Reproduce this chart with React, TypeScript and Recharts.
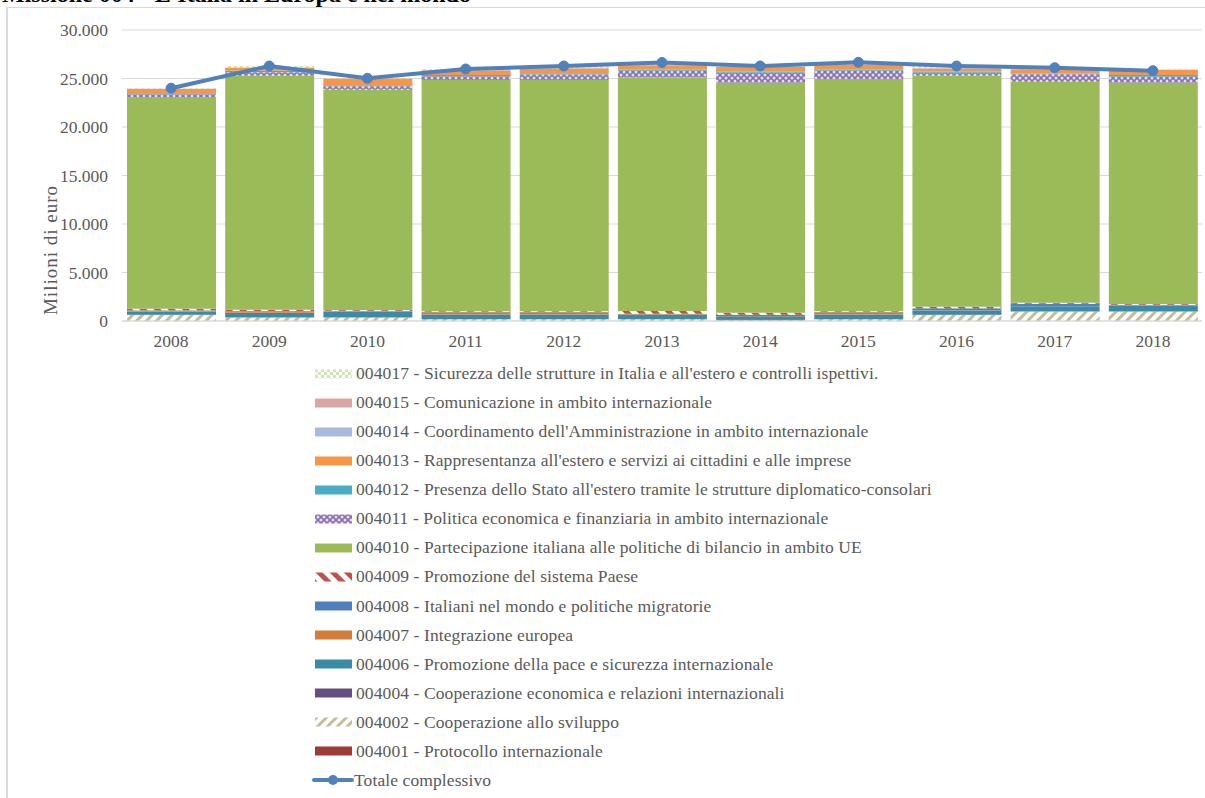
import React from 'react';
import { Bar, CartesianGrid, ComposedChart, Line, XAxis, YAxis } from 'recharts';

const years = ['2008', '2009', '2010', '2011', '2012', '2013', '2014', '2015', '2016', '2017', '2018'];

// milioni di euro
const s004001 = [20, 20, 20, 20, 20, 20, 20, 20, 20, 20, 20];
const s004002 = [600, 350, 350, 170, 170, 170, 60, 170, 600, 950, 950];
const s004004 = [20, 20, 20, 20, 20, 20, 100, 20, 20, 20, 20];
const s004006 = [350, 450, 600, 450, 450, 450, 300, 450, 450, 450, 600];
const s004007 = [100, 150, 30, 230, 230, 50, 30, 230, 30, 30, 30];
const s004008 = [30, 30, 30, 30, 30, 40, 140, 30, 200, 300, 60];
const s004009 = [150, 150, 80, 80, 80, 280, 200, 80, 150, 120, 70];
const s004010 = [21750, 24120, 22720, 23850, 23850, 24090, 23720, 23950, 23820, 22780, 22820];
const s004011 = [350, 350, 350, 380, 550, 690, 1030, 860, 310, 760, 620];
const s004012 = [100, 170, 100, 120, 150, 100, 100, 120, 130, 80, 170];
const s004013 = [450, 300, 690, 470, 480, 450, 480, 450, 280, 450, 515];
const s004014 = [20, 20, 10, 20, 20, 20, 20, 20, 20, 20, 20];
const s004015 = [20, 30, 10, 40, 90, 60, 30, 60, 80, 30, 20];
const s004017 = [60, 150, 10, 100, 150, 210, 60, 210, 180, 100, 35];
const totale = [24000, 26290, 25020, 25980, 26290, 26650, 26290, 26670, 26290, 26110, 25800];

const yTicks = [0, 5000, 10000, 15000, 20000, 25000, 30000];

const series = [
  { key: 's004001', name: '004001 - Protocollo internazionale', values: s004001, fill: '#9c3b38' },
  { key: 's004002', name: '004002 - Cooperazione allo sviluppo', values: s004002, fill: 'url(#p002)' },
  { key: 's004004', name: '004004 - Cooperazione economica e relazioni internazionali', values: s004004, fill: '#654f82' },
  { key: 's004006', name: '004006 - Promozione della pace e sicurezza internazionale', values: s004006, fill: '#3a8ca6' },
  { key: 's004007', name: '004007 - Integrazione europea', values: s004007, fill: '#d27d3b' },
  { key: 's004008', name: '004008 - Italiani nel mondo e politiche migratorie', values: s004008, fill: '#4f7fbd' },
  { key: 's004009', name: '004009 - Promozione del sistema Paese', values: s004009, fill: 'url(#p009)' },
  { key: 's004010', name: '004010 - Partecipazione italiana alle politiche di bilancio in ambito UE', values: s004010, fill: '#9bbb59' },
  { key: 's004011', name: '004011 - Politica economica e finanziaria in ambito internazionale', values: s004011, fill: 'url(#p011)' },
  { key: 's004012', name: "004012 - Presenza dello Stato all'estero tramite le strutture diplomatico-consolari", values: s004012, fill: '#4bacc6' },
  { key: 's004013', name: "004013 - Rappresentanza all'estero e servizi ai cittadini e alle imprese", values: s004013, fill: '#f79646' },
  { key: 's004014', name: "004014 - Coordinamento dell'Amministrazione in ambito internazionale", values: s004014, fill: '#a7b9dc' },
  { key: 's004015', name: '004015 - Comunicazione in ambito internazionale', values: s004015, fill: '#d9a6a5' },
  { key: 's004017', name: "004017 - Sicurezza delle strutture in Italia e all'estero e controlli ispettivi.", values: s004017, fill: 'url(#p017)' },
];

const data = years.map((year, i) => {
  const row: Record<string, string | number> = { year, totale: totale[i] };
  series.forEach((s) => {
    row[s.key] = s.values[i];
  });
  return row;
});

const fmt = (v: number) => String(v).replace(/\B(?=(\d{3})+(?!\d))/g, '.');

const font = '"Liberation Serif", "Times New Roman", serif';
const grey = '#595959';

function Patterns() {
  return (
    <defs>
      <pattern id="p017" width="6" height="6" patternUnits="userSpaceOnUse">
        <rect width="6" height="6" fill="#ffffff" />
        <rect width="3" height="3" fill="#d3e2b6" />
        <rect x="3" y="3" width="3" height="3" fill="#d3e2b6" />
      </pattern>
      <pattern id="p011" width="6" height="6" patternUnits="userSpaceOnUse">
        <rect width="6" height="6" fill="#8a70ad" />
        <circle cx="0" cy="0" r="1.5" fill="#e4ddef" />
        <circle cx="6" cy="0" r="1.5" fill="#e4ddef" />
        <circle cx="0" cy="6" r="1.5" fill="#e4ddef" />
        <circle cx="6" cy="6" r="1.5" fill="#e4ddef" />
        <circle cx="3" cy="3" r="1.5" fill="#e4ddef" />
      </pattern>
      <pattern id="p009" width="10" height="10" patternUnits="userSpaceOnUse" patternTransform="rotate(-45)">
        <rect width="10" height="10" fill="#ffffff" />
        <rect width="5" height="10" fill="#c0504d" />
      </pattern>
      <pattern id="p002" width="7" height="7" patternUnits="userSpaceOnUse" patternTransform="rotate(45)">
        <rect width="7" height="7" fill="#ffffff" />
        <rect width="3" height="7" fill="#c4bd97" />
      </pattern>
    </defs>
  );
}

function Legenda() {
  const rows = [...series].reverse();
  return (
    <div
      style={{
        position: 'absolute',
        left: 315,
        top: 359,
        fontFamily: font,
        fontSize: 17.5,
        letterSpacing: 0.1,
        color: grey,
      }}
    >
      {rows.map((s) => (
        <div key={s.key} style={{ height: 29.07, display: 'flex', alignItems: 'center', whiteSpace: 'nowrap' }}>
          <svg width={37} height={10} style={{ marginRight: 4 }}>
            <rect x={0} y={0.5} width={37} height={9} fill={s.fill} />
          </svg>
          <span>{s.name}</span>
        </div>
      ))}
      <div style={{ height: 29.07, display: 'flex', alignItems: 'center', whiteSpace: 'nowrap' }}>
        <svg width={42} height={14} style={{ marginLeft: -3 }}>
          <line x1={2} y1={7} x2={40} y2={7} stroke="#4f81bd" strokeWidth={4} strokeLinecap="round" />
          <circle cx={21} cy={7} r={5} fill="#4f81bd" />
        </svg>
        <span>Totale complessivo</span>
      </div>
    </div>
  );
}

export default function App() {
  return (
    <div style={{ position: 'absolute', left: 0, top: 0, width: 1205, height: 798, background: '#fff', overflow: 'hidden' }}>
      <div
        style={{
          position: 'absolute',
          left: 2,
          top: -19,
          fontFamily: font,
          fontWeight: 'bold',
          fontSize: 24,
          color: '#000',
          whiteSpace: 'nowrap',
        }}
      >
        Missione 004 - L'Italia in Europa e nel mondo
      </div>
      <div
        style={{
          position: 'absolute',
          left: 6,
          top: 7,
          width: 1300,
          height: 900,
          borderLeft: '2px solid #d9d9d9',
          borderTop: '1.5px solid #d9d9d9',
          background: '#fff',
        }}
      />
      <div style={{ position: 'absolute', left: 0, top: 0 }}>
        <ComposedChart
          width={1205}
          height={360}
          data={data}
          margin={{ top: 30, right: 3, bottom: 9, left: 0 }}
          barSize={89}
        >
          <Patterns />
          <CartesianGrid stroke="#d9d9d9" vertical={false} />
          <XAxis
            dataKey="year"
            height={30}
            axisLine={{ stroke: '#d9d9d9' }}
            tickLine={false}
            tickMargin={8}
            tick={{ fill: grey, fontSize: 17.5, fontFamily: font }}
          />
          <YAxis
            width={122}
            domain={[0, 30000]}
            ticks={yTicks}
            tickFormatter={fmt}
            axisLine={false}
            tickLine={false}
            tickSize={0}
            tickMargin={14}
            tick={{ fill: grey, fontSize: 17.5, fontFamily: font }}
          />
          {series.map((s) => (
            <Bar key={s.key} dataKey={s.key} name={s.name} stackId="a" fill={s.fill} isAnimationActive={false} />
          ))}
          <Line
            dataKey="totale"
            name="Totale complessivo"
            type="linear"
            stroke="#4f81bd"
            strokeWidth={4}
            dot={{ r: 5, fill: '#4f81bd', stroke: '#4f81bd', strokeWidth: 1 }}
            isAnimationActive={false}
          />
        </ComposedChart>
      </div>
      <div
        style={{
          position: 'absolute',
          left: 51,
          top: 250,
          transform: 'translate(-50%, -50%) rotate(-90deg)',
          fontFamily: font,
          fontSize: 19,
          letterSpacing: 1,
          color: grey,
          whiteSpace: 'nowrap',
        }}
      >
        Milioni di euro
      </div>
      <Legenda />
    </div>
  );
}
